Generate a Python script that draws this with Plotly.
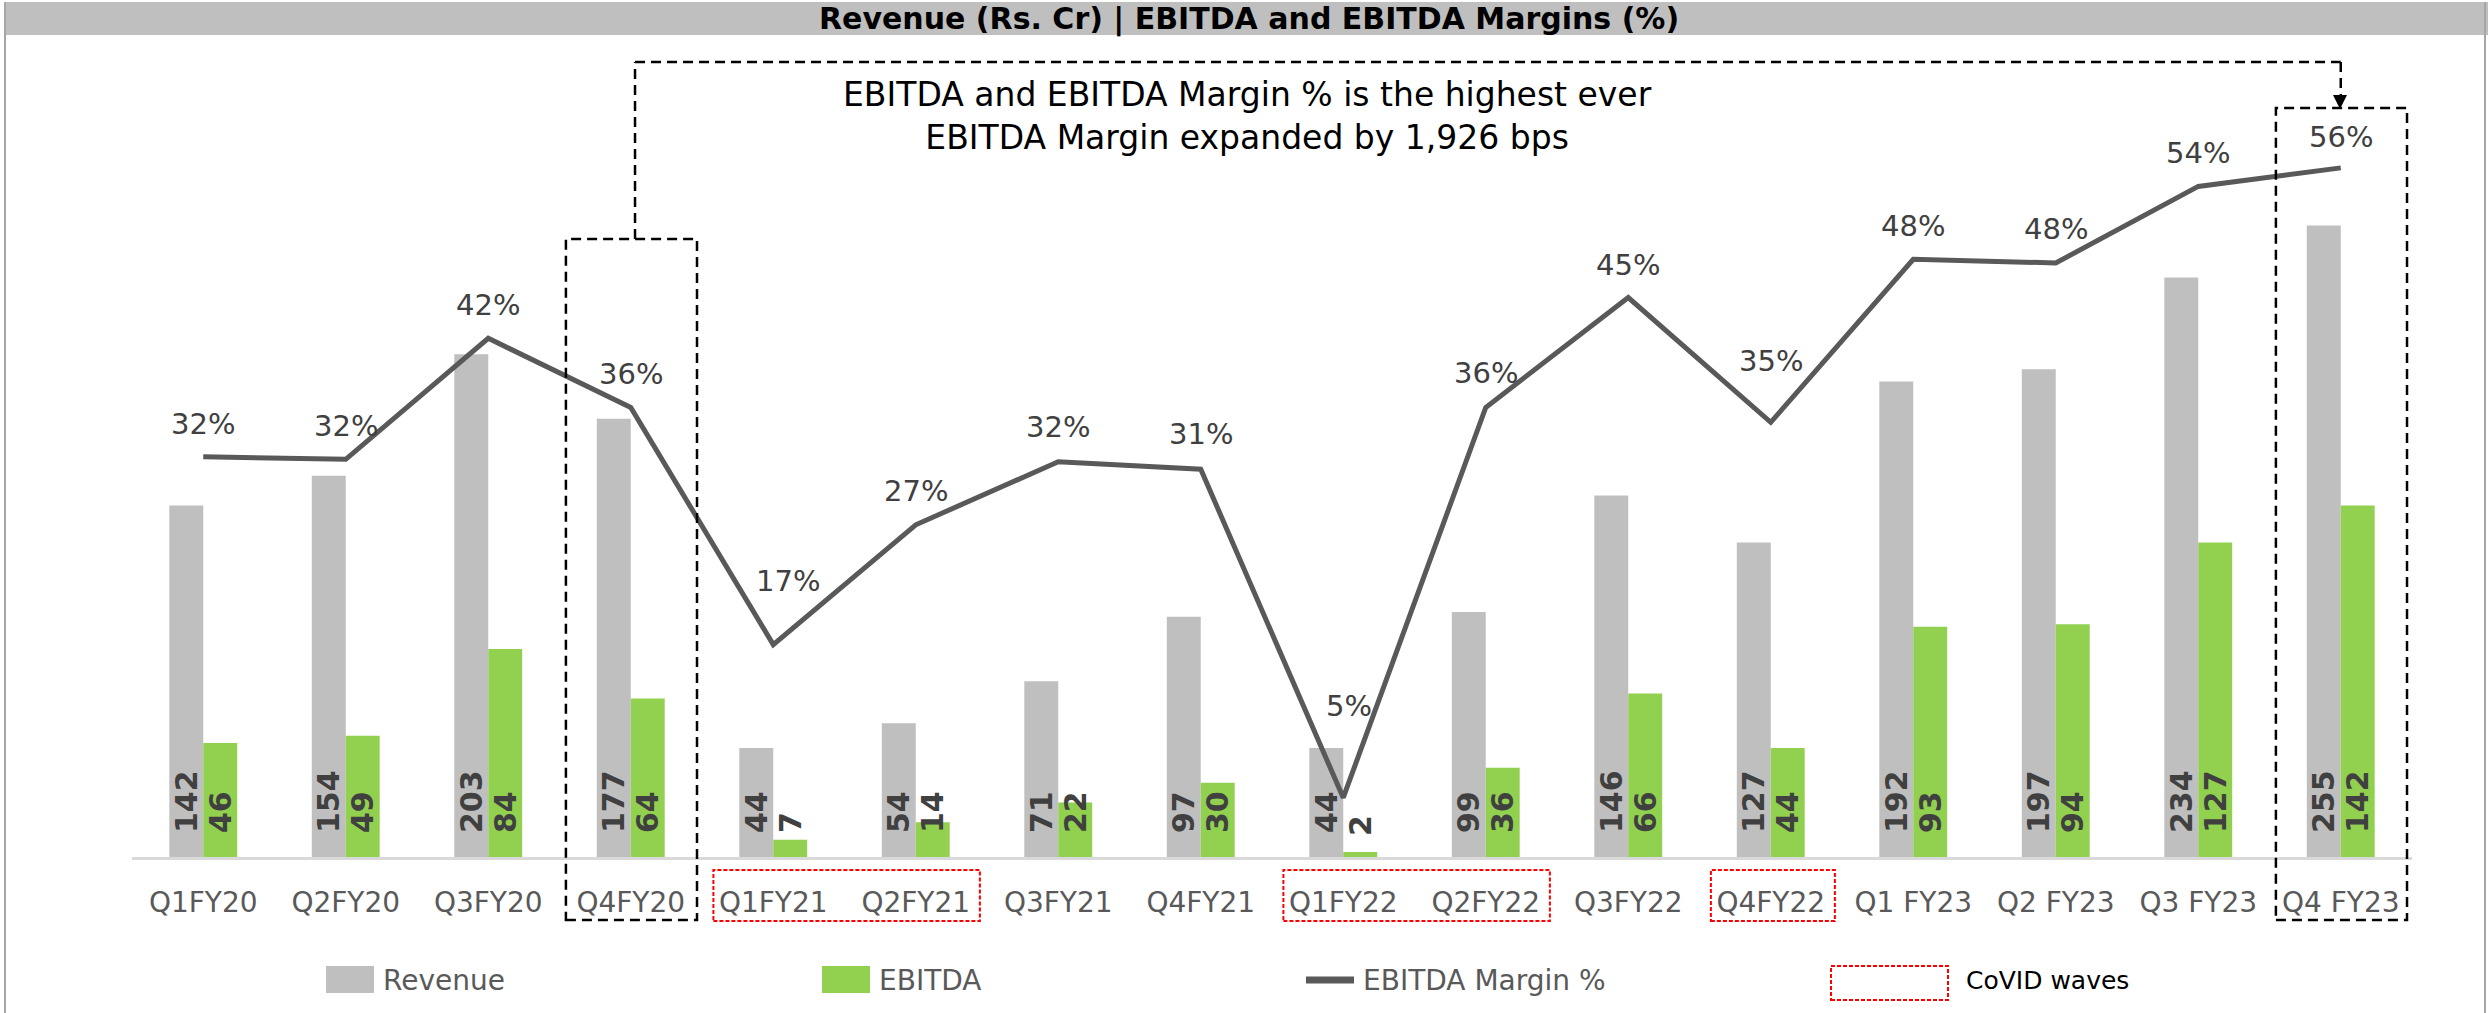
import plotly.graph_objects as go

# ---------------- data ----------------
quarters = ["Q1FY20", "Q2FY20", "Q3FY20", "Q4FY20", "Q1FY21", "Q2FY21", "Q3FY21", "Q4FY21",
            "Q1FY22", "Q2FY22", "Q3FY22", "Q4FY22", "Q1 FY23", "Q2 FY23", "Q3 FY23", "Q4 FY23"]
revenue = [142, 154, 203, 177, 44, 54, 71, 97, 44, 99, 146, 127, 192, 197, 234, 255]
ebitda = [46, 49, 84, 64, 7, 14, 22, 30, 2, 36, 66, 44, 93, 94, 127, 142]
margin = [32.4, 32.2, 42.0, 36.4, 17.2, 26.9, 32.0, 31.4, 4.8, 36.4, 45.3, 35.2, 48.4, 48.1, 54.3, 55.8]
covid_groups = [(4, 5), (8, 9), (11, 11)]
highlight_quarters = [3, 15]

# label offsets (px above the line point) and horizontal nudges
label_yshift = [33, 33, 33, 33, 64, 34, 35, 35, 92, 34, 33, 61, 33, 34, 33, 31]
label_xshift = [0, 0, 0, 0, 15, 0, 0, 0, 6, 0, 0, 0, 0, 0, 0, 0]

# ---------------- geometry ----------------
WIDTH, HEIGHT = 2488, 1013
L, R, T, B = 132, 2412, 100, 857
PW, PH = R - L, B - T


def px(x):
    return (x - L) / PW


def py(y):
    return (B - y) / PH


FONT = "DejaVu Sans"
GREY_TXT = "#595959"
DARK_TXT = "#404040"

fig = go.Figure()

nb = "\u00a0\u00a0"
for name, vals, col in [("Revenue", revenue, "#BFBFBF"), ("EBITDA", ebitda, "#92D050")]:
    fig.add_trace(go.Bar(
        x=quarters, y=vals, name=name, marker=dict(color=col, line=dict(width=0)),
        text=[nb + str(v) for v in vals], textposition="inside", insidetextanchor="start",
        textangle=-90, constraintext="none",
        textfont=dict(family=FONT, size=30, color=DARK_TXT, weight="bold"),
        hoverinfo="skip", cliponaxis=False,
    ))
fig.add_trace(go.Scatter(
    x=quarters, y=margin, name="EBITDA Margin %", yaxis="y2", mode="lines",
    line=dict(color="#595959", width=5), hoverinfo="skip", cliponaxis=False,
))

annotations = []
for i, (q, m) in enumerate(zip(quarters, margin)):
    annotations.append(dict(
        x=q, y=m, xref="x", yref="y2", text=f"{m:.0f}%", showarrow=False,
        yshift=label_yshift[i], xshift=label_xshift[i], xanchor="center", yanchor="middle",
        font=dict(family=FONT, size=29, color=DARK_TXT),
    ))

# title
annotations.append(dict(
    x=px(1249), y=py(19), xref="paper", yref="paper", showarrow=False,
    text="<b>Revenue (Rs. Cr) | EBITDA and EBITDA Margins (%)</b>",
    font=dict(family=FONT, size=30, color="#000000"), xanchor="center", yanchor="middle",
))
# call-out text
annotations.append(dict(
    x=px(1247), y=py(116), xref="paper", yref="paper", showarrow=False,
    text="EBITDA and EBITDA Margin % is the highest ever<br>EBITDA Margin expanded by 1,926 bps",
    font=dict(family=FONT, size=33, color="#000000"), xanchor="center", yanchor="middle",
    align="center",
))
# legend texts
for xpos, txt, col, sz in [(381, "Revenue", GREY_TXT, 28), (877, "EBITDA", GREY_TXT, 28),
                           (1361, "EBITDA Margin %", GREY_TXT, 28), (1964, "CoVID waves", "#000000", 25)]:
    annotations.append(dict(
        x=px(xpos), y=py(980), xref="paper", yref="paper", showarrow=False, text=txt,
        font=dict(family=FONT, size=sz, color=col), xanchor="left", yanchor="middle",
    ))

shapes = []
# title bar and frame
shapes.append(dict(type="rect", xref="paper", yref="paper", x0=px(4), x1=px(2488), y0=py(35), y1=py(2),
                   fillcolor="#BFBFBF", line=dict(width=0), layer="below"))
for xx in (5, 2485):
    shapes.append(dict(type="line", xref="paper", yref="paper", x0=px(xx), x1=px(xx), y0=py(2), y1=py(1013),
                       line=dict(color="#A6A6A6", width=2)))

blk = dict(color="#000000", width=2.5, dash="10px,6px")
# highlight boxes
for idx, top in zip(highlight_quarters, (239, 108)):
    shapes.append(dict(type="rect", xref="x", yref="paper", x0=idx - 0.455, x1=idx + 0.465,
                       y0=py(920), y1=py(top), line=blk, fillcolor="rgba(0,0,0,0)"))
# connector
a, b = highlight_quarters
shapes.append(dict(type="line", xref="x", yref="paper", x0=a + 0.03, x1=a + 0.03, y0=py(239), y1=py(62), line=blk))
shapes.append(dict(type="line", xref="x", yref="paper", x0=a + 0.03, x1=b, y0=py(62), y1=py(62), line=blk))
shapes.append(dict(type="line", xref="x", yref="paper", x0=b, x1=b, y0=py(62), y1=py(96), line=blk))
shapes.append(dict(type="path", xref="paper", yref="paper",
                   path=f"M {px(2333)},{py(95)} L {px(2347)},{py(95)} L {px(2340)},{py(109)} Z",
                   fillcolor="#000000", line=dict(width=0)))

red = dict(color="#FF0000", width=2, dash="4px,2px")
for g0, g1 in covid_groups:
    shapes.append(dict(type="rect", xref="x", yref="paper", x0=g0 - 0.42, x1=g1 + 0.45,
                       y0=py(921), y1=py(870), line=red, fillcolor="rgba(0,0,0,0)"))

# legend symbols
shapes.append(dict(type="rect", xref="paper", yref="paper", x0=px(326), x1=px(374), y0=py(993), y1=py(966),
                   fillcolor="#BFBFBF", line=dict(width=0)))
shapes.append(dict(type="rect", xref="paper", yref="paper", x0=px(822), x1=px(870), y0=py(993), y1=py(966),
                   fillcolor="#92D050", line=dict(width=0)))
shapes.append(dict(type="line", xref="paper", yref="paper", x0=px(1306), x1=px(1354), y0=py(980), y1=py(980),
                   line=dict(color="#595959", width=7)))
shapes.append(dict(type="rect", xref="paper", yref="paper", x0=px(1831), x1=px(1948), y0=py(1000), y1=py(966),
                   line=red, fillcolor="rgba(0,0,0,0)"))

fig.update_layout(
    width=WIDTH, height=HEIGHT, autosize=False,
    margin=dict(l=L, r=WIDTH - R, t=T, b=HEIGHT - B, pad=0),
    paper_bgcolor="white", plot_bgcolor="white",
    barmode="group", bargap=0.5235, bargroupgap=0,
    showlegend=False,
    font=dict(family=FONT, color=GREY_TXT),
    xaxis=dict(type="category", showgrid=False, zeroline=False, showline=True, linecolor="#D9D9D9",
               linewidth=3, ticks="outside", ticklen=18, tickcolor="rgba(0,0,0,0)",
               tickfont=dict(family=FONT, size=28, color=GREY_TXT), automargin=False,
               range=[-0.5, 15.5]),
    yaxis=dict(range=[0, PH / 2.476], visible=False, showgrid=False, zeroline=False),
    yaxis2=dict(range=[0, PH / 12.35], overlaying="y", side="right", visible=False,
                showgrid=False, zeroline=False),
    annotations=annotations,
    shapes=shapes,
)

fig.write_html("out.html", config={"displayModeBar": False},
               post_script="document.body.style.margin='0';document.body.style.overflow='hidden';")
